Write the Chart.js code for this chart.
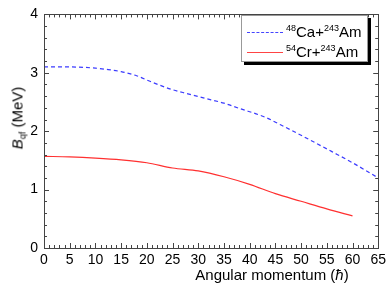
<!DOCTYPE html>
<html>
<head>
<meta charset="utf-8">
<script src="https://cdn.jsdelivr.net/npm/chart.js@4/dist/chart.umd.min.js"></script>
<style>
  html, body { margin: 0; padding: 0; background: #fff; }
  #wrap { position: relative; width: 390px; height: 292px; font-family: "Liberation Sans", Arial, sans-serif; }
  canvas { position: absolute; left: 0; top: 0; }
  #ytitle { position: absolute; left: 17px; top: 118px; transform: translate(-50%, -50%) rotate(-90deg); white-space: nowrap; font-size: 15px; color: #000; }
  #xtitle { position: absolute; left: 272px; top: 274px; transform: translate(-50%, -50%); white-space: nowrap; font-size: 15px; color: #000; }
  #legend { position: absolute; left: 241px; top: 15px; width: 125px; height: 45px; border: 1px solid #999; background: #fff; box-shadow: 3px 3px 0 #000; font-size: 15px; color: #000; }
  .row { position: absolute; left: 0; height: 18px; white-space: nowrap; }
  .sample { position: absolute; left: 5px; top: 9px; width: 36px; height: 0; }
  .lab { position: absolute; left: 44px; top: 0; line-height: 18px; }
  sup { font-size: 9px; vertical-align: 6px; line-height: 0; }
  sub { font-size: 9px; vertical-align: -3px; line-height: 0; }
</style>
</head>
<body>
<div id="wrap">
  <canvas id="c" width="390" height="292"></canvas>
  <div id="ytitle"><i>B</i><sub>qf</sub> (MeV)</div>
  <div id="xtitle">Angular momentum (<i>ħ</i>)</div>
  <div id="legend">
    <div class="row" style="top:7px;"><div class="sample" style="border-top:1.5px dashed #4444ff;"></div><div class="lab"><sup>48</sup>Ca+<sup>243</sup>Am</div></div>
    <div class="row" style="top:27px;"><div class="sample" style="border-top:1.5px solid #ff4444;"></div><div class="lab"><sup>54</sup>Cr+<sup>243</sup>Am</div></div>
  </div>
</div>
<script>
const caJ = [0, 5, 10, 12, 15, 18, 21, 25, 28, 31, 35, 38, 43, 46, 50, 56, 60, 65];
const caB = [3.10, 3.10, 3.08, 3.06, 3.02, 2.95, 2.84, 2.71, 2.64, 2.57, 2.48, 2.39, 2.24, 2.11, 1.93, 1.65, 1.46, 1.20];
const crJ = [0, 5, 10, 15, 20, 25, 30, 35, 40, 45, 50, 55, 60];
const crB = [1.57, 1.56, 1.54, 1.51, 1.46, 1.37, 1.32, 1.22, 1.09, 0.93, 0.80, 0.67, 0.55];
const xMin = 0, xMax = 65, xStep = 5, xMinor = 1;
const yMin = 0, yMax = 4, yStep = 1, yMinor = 0.2;

const framePlugin = {
  id: 'frame',
  afterDraw(chart) {
    const { ctx, chartArea: a, scales: { x, y } } = chart;
    ctx.save();
    ctx.strokeStyle = '#444';
    ctx.lineWidth = 1;
    ctx.strokeRect(Math.round(a.left) + 0.5, Math.round(a.top) + 0.5, Math.round(a.right - a.left), Math.round(a.bottom - a.top));
    ctx.beginPath();
    const nx = Math.round((xMax - xMin) / xMinor);
    for (let i = 0; i <= nx; i++) {
      const v = xMin + i * xMinor;
      const px = Math.round(x.getPixelForValue(v)) + 0.5;
      const len = (Math.abs(v / xStep - Math.round(v / xStep)) < 1e-6) ? 5 : 3;
      ctx.moveTo(px, a.bottom); ctx.lineTo(px, a.bottom - len);
      ctx.moveTo(px, a.top); ctx.lineTo(px, a.top + len);
    }
    const ny = Math.round((yMax - yMin) / yMinor);
    for (let i = 0; i <= ny; i++) {
      const v = yMin + i * yMinor;
      const py = Math.round(y.getPixelForValue(v)) + 0.5;
      const len = (Math.abs(v / yStep - Math.round(v / yStep)) < 1e-6) ? 5 : 3;
      ctx.moveTo(a.left, py); ctx.lineTo(a.left + len, py);
      ctx.moveTo(a.right, py); ctx.lineTo(a.right - len, py);
    }
    ctx.stroke();
    ctx.restore();
  }
};

new Chart(document.getElementById('c'), {
  type: 'line',
  data: {
    datasets: [
      { label: '48Ca+243Am', data: caJ.map((j, i) => ({ x: j, y: caB[i] })), borderColor: '#3b3bff', borderWidth: 1.2, borderDash: [4, 3], pointRadius: 0, tension: 0.4, cubicInterpolationMode: 'monotone', fill: false },
      { label: '54Cr+243Am', data: crJ.map((j, i) => ({ x: j, y: crB[i] })), borderColor: '#ff3030', borderWidth: 1.2, pointRadius: 0, tension: 0.4, cubicInterpolationMode: 'monotone', fill: false }
    ]
  },
  options: {
    responsive: false,
    animation: false,
    devicePixelRatio: 1,
    layout: { padding: { top: 11, right: 10, left: 0, bottom: 0 } },
    plugins: { legend: { display: false }, tooltip: { enabled: false } },
    scales: {
      x: {
        type: 'linear', min: xMin, max: xMax,
        grid: { display: false, drawTicks: false }, border: { display: false },
        ticks: { stepSize: xStep, padding: 4, color: '#000', font: { family: 'Liberation Sans', size: 14 }, maxRotation: 0, autoSkip: false },
        afterFit(s) { s.height = 44; }
      },
      y: {
        type: 'linear', min: yMin, max: yMax,
        grid: { display: false, drawTicks: false }, border: { display: false },
        ticks: { stepSize: yStep, padding: 6, color: '#000', font: { family: 'Liberation Sans', size: 14 } },
        afterFit(s) { s.width = 44; }
      }
    }
  },
  plugins: [framePlugin]
});
</script>
</body>
</html>
